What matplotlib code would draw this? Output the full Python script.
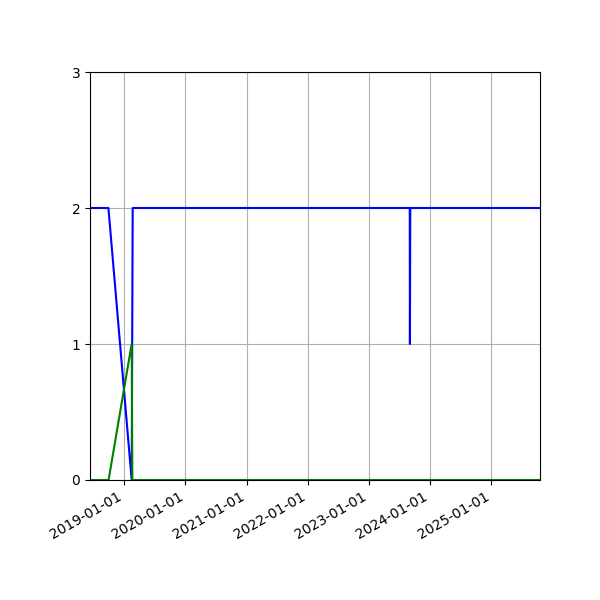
import matplotlib
matplotlib.use('Agg')
from matplotlib import pyplot as plt
import matplotlib.dates as mdates
import pandas as pd

# series
blue_dates = ['2018-06-10', '2018-09-28', '2019-02-14', '2019-02-20',
              '2023-09-02', '2023-09-03', '2023-09-05', '2025-10-19']
blue_values = [2, 2, 0, 2, 2, 1, 2, 2]

green_dates = ['2018-06-10', '2018-09-29', '2019-02-14', '2019-02-18', '2025-10-19']
green_values = [0, 0, 1, 0, 0]

blue_x = pd.to_datetime(blue_dates)
green_x = pd.to_datetime(green_dates)

fig, ax = plt.subplots(figsize=(6, 6), dpi=100)
ax.plot(blue_x, blue_values, color='blue')
ax.plot(green_x, green_values, color='green')

ax.set_xlim(pd.Timestamp('2018-06-10'), pd.Timestamp('2025-10-19'))
ax.set_ylim(0, 3)
ax.set_yticks([0, 1, 2, 3])
ax.xaxis.set_major_locator(mdates.YearLocator())
ax.xaxis.set_major_formatter(mdates.DateFormatter('%Y-%m-%d'))
ax.grid(True)

fig.autofmt_xdate()
fig.subplots_adjust(left=0.15, right=0.9, top=0.88, bottom=0.2)
plt.savefig('out.png')
